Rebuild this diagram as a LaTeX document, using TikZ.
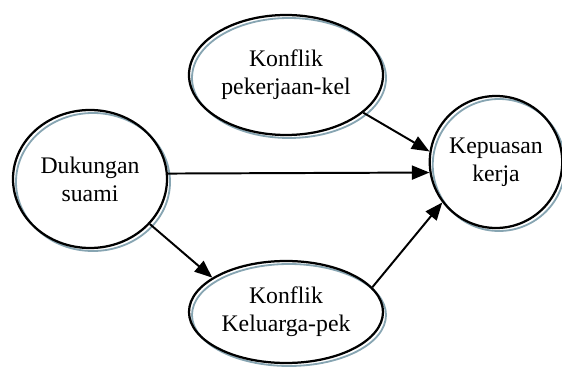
\documentclass[tikz,border=0pt]{standalone}
\usepackage{fontspec}
\setmainfont{Liberation Serif}
\usetikzlibrary{arrows.meta,shapes.geometric}
\definecolor{sombra}{RGB}{135,165,178}

\begin{document}
\begin{tikzpicture}[line width=1.4pt,>={Triangle[length=4.4mm,width=3.5mm]},
  var/.style={ellipse,draw,line width=1.6pt,inner sep=0pt,align=center,
    font=\fontsize{16.9}{20}\selectfont,
    preaction={draw=sombra,line width=1.3pt,transform canvas={shift={(0.075,-0.075)}}}}]
  \useasboundingbox (0,0) rectangle (14.05,9.175);
  % variabel
  \node[var,minimum width=3.85cm,minimum height=3.45cm] (dukungan) at (2.25,4.70) {Dukungan\\suami};
  \node[var,minimum width=4.85cm,minimum height=3.0cm] (konflikpk) at (7.15,7.30) {Konflik\\pekerjaan-kel};
  \node[var,minimum width=4.85cm,minimum height=2.55cm] (konflikkp) at (7.15,1.375) {Konflik\\Keluarga-pek};
  \node[var,minimum width=3.3cm,minimum height=3.3cm] (kepuasan) at (12.40,5.125) {Kepuasan\\kerja};
  % jalur
  \draw[->] (dukungan.4.5) -- (kepuasan.189);
  \draw[->] (konflikpk.334) -- (kepuasan.171.6);
  \draw[->] (dukungan.323) -- (konflikkp.155.9);
  \draw[->] (konflikkp.16) -- (kepuasan.217);
\end{tikzpicture}
\end{document}
